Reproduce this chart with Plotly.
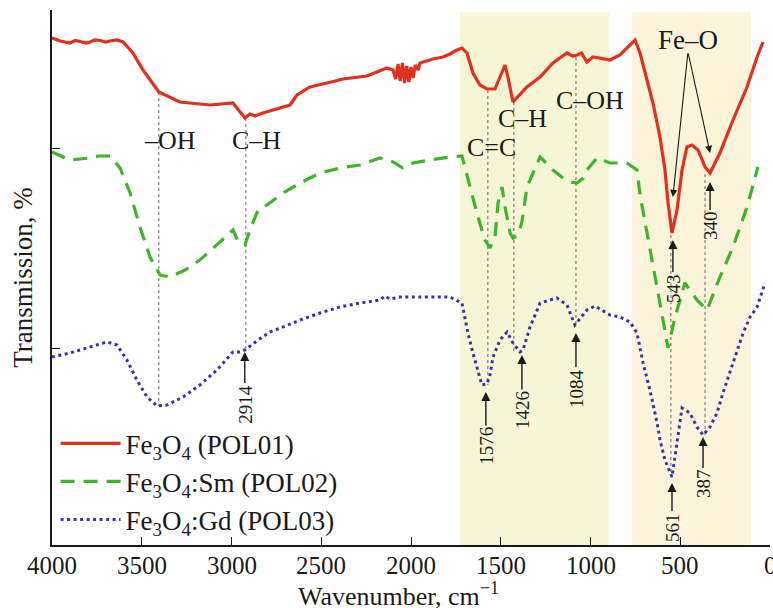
import plotly.graph_objects as go

# ---------------- data (wavenumber, cm-1 ; transmission, arb. units) ----------------
w_pol01 = [4000, 3955, 3900, 3870, 3844, 3810, 3788, 3760, 3733, 3700, 3677, 3640, 3604,
           3549, 3493, 3438, 3405, 3288, 3120, 2992, 2970, 2925, 2897, 2869, 2825, 2674,
           2635, 2563, 2468, 2379, 2245, 2134, 2100, 2085, 2072, 2060, 2048, 2036, 2024,
           2012, 2000, 1988, 1976, 1960, 1950, 1878, 1822,
           1783, 1744, 1716, 1688, 1655, 1616, 1577, 1532, 1504, 1476, 1460, 1432, 1354,
           1281, 1209, 1131, 1100, 1075, 1050, 1020, 986, 891, 836, 752, 724, 685, 652,
           613, 585, 568, 546, 518, 490, 463, 435, 401, 362, 334, 279, 206, 128, 72, 39]
t_pol01 = [101.4, 100.8, 100.4, 100.9, 100.7, 100.4, 100.6, 101.0, 100.9, 100.6, 100.8, 101.0, 100.6,
           98.4, 95.0, 92.4, 90.6, 88.6, 88.0, 88.4, 87.4, 85.4, 86.2, 85.8, 86.4, 88.0,
           90.0, 91.6, 92.4, 93.2, 93.8, 95.4, 95.0, 93.2, 96.2, 92.8, 96.4, 92.4, 95.8,
           92.6, 95.6, 93.4, 96.0, 95.0, 96.4, 97.2, 97.6,
           98.2, 99.0, 99.4, 98.4, 94.4, 92.0, 91.2, 91.2, 93.6, 96.0, 93.6, 88.6, 91.6,
           93.6, 96.4, 98.4, 97.8, 98.0, 98.4, 96.6, 97.6, 97.0, 98.0, 101.0, 98.4, 93.0, 88.4,
           81.6, 75.0, 68.4, 62.4, 67.0, 75.0, 79.6, 80.0, 79.0, 75.6, 74.4, 78.4, 85.0, 91.6, 97.6, 100.6]

w_pol02 = [4000, 3950, 3900, 3844, 3790, 3740, 3677, 3621, 3565, 3510, 3454, 3398, 3343,
           3259, 3176, 3064, 2992, 2964, 2925, 2897, 2852, 2802, 2713, 2618, 2507, 2396,
           2284, 2173, 2100, 2045, 1989, 1894, 1783, 1716, 1671, 1627, 1588, 1560, 1532,
           1515, 1493, 1476, 1448, 1432, 1404, 1382, 1354, 1298, 1281, 1209, 1153, 1110,
           1075, 1040, 1020, 964, 891, 797, 741, 724, 669, 624, 596, 568, 529, 474, 407,
           351, 279, 206, 128, 67]
t_pol02 = [78.6, 77.8, 77.0, 77.2, 77.4, 77.8, 77.8, 75.4, 70.4, 63.6, 57.6, 54.0, 53.6,
           55.0, 57.0, 60.6, 63.0, 60.8, 60.0, 63.0, 67.0, 68.0, 70.4, 72.4, 74.4, 75.4,
           76.0, 77.4, 76.6, 75.4, 76.4, 77.0, 77.6, 77.8, 71.6, 65.6, 61.0, 59.4, 61.6,
           68.4, 71.6, 67.6, 62.4, 61.4, 62.0, 64.6, 71.6, 76.4, 77.6, 75.0, 73.4, 72.6,
           72.4, 73.4, 75.0, 77.4, 76.4, 76.4, 75.0, 70.0, 59.6, 50.4, 45.0, 39.4, 45.6, 52.4, 49.0,
           47.0, 53.6, 59.6, 67.6, 75.6]

w_pol03 = [4000, 3900, 3788, 3694, 3638, 3583, 3527, 3471, 3415, 3360, 3270, 3176, 3081,
           2992, 2953, 2925, 2852, 2786, 2713, 2618, 2507, 2396, 2284, 2173, 2145, 2117,
           2061, 1894, 1783, 1716, 1683, 1655, 1627, 1605, 1577, 1560, 1543, 1504, 1465,
           1432, 1393, 1376, 1337, 1281, 1187, 1131, 1087, 1020, 975, 891, 836, 780, 741,
           707, 669, 629, 613, 585, 546, 518, 490, 446, 407, 373, 334, 295, 262, 223, 184,
           150, 111, 72, 28]
t_pol03 = [37.6, 38.4, 39.6, 40.6, 40.0, 37.0, 33.0, 29.6, 27.8, 28.0, 29.6, 32.0, 35.0,
           38.6, 38.6, 39.0, 41.0, 42.6, 43.6, 45.0, 46.4, 47.6, 48.4, 49.0, 49.8, 49.2,
           49.6, 49.6, 49.6, 48.4, 42.4, 38.4, 35.0, 32.0, 32.2, 34.0, 37.6, 41.0, 42.6,
           40.4, 38.6, 39.0, 43.6, 48.4, 49.4, 48.0, 44.0, 47.0, 47.8, 46.0, 45.6, 44.6, 42.4,
           36.4, 31.0, 24.4, 21.0, 17.0, 13.6, 21.0, 27.4, 26.4, 23.6, 22.0, 23.6, 26.4, 30.4, 34.6, 38.6,
           42.4, 45.6, 47.6, 52.4]

series_names = ["Fe<sub>3</sub>O<sub>4</sub> (POL01)",
                "Fe<sub>3</sub>O<sub>4</sub>:Sm (POL02)",
                "Fe<sub>3</sub>O<sub>4</sub>:Gd (POL03)"]

x_ticks = [4000, 3500, 3000, 2500, 2000, 1500, 1000, 500, 0]
x_tick_labels = [str(v) for v in x_ticks]
y_ticks = [39.4, 79.4]

# shaded spectral regions (wavenumber ranges)
band_ranges = [(1727, 897), (769, 106)]
band_colors = ["rgba(246,246,214,1)", "rgba(252,243,219,1)"]

# dotted guide lines: (wavenumber, top, bottom)
guide_lines = [(3405, 90.6, 27.8), (2920, 85.4, 38.6), (1572, 91.0, 32.0), (1427, 88.6, 38.6),
               (1081, 97.6, 44.0), (552, 62.0, 13.6), (362, 74.2, 22.0)]

# group labels: (text, wavenumber, value)
group_labels = [("–OH", 3344, 81.0), ("C–H", 2859, 81.0), ("C=C", 1549, 79.6),
                ("C–H", 1377, 85.4), ("C–OH", 1003, 89.0)]

# peak labels: (text, wavenumber at arrow, value at arrow tip, pixel offset of label)
peak_labels = [("2914", 2926, 38.6, 52), ("1576", 1583, 30.6, 54), ("1426", 1382, 38.0, 55),
               ("1084", 1081, 42.4, 55), ("561", 546, 12.4, 44), ("387", 373, 21.6, 47),
               ("543", 541, 61.0, 48), ("340", 334, 72.6, 44)]

feo_label = ("Fe–O", 457, 101.0)
feo_tail = (457, 98.6)
feo_tips = [(541, 69.6), (334, 78.4)]

x_title = "Wavenumber, cm<sup>−1</sup>"
y_title = "Transmission, %"

FONT = "Liberation Serif, Times New Roman, serif"
INK = "#1a1a1a"

fig = go.Figure()

fig.add_trace(go.Scatter(x=w_pol01, y=t_pol01, mode="lines", name=series_names[0],
                         legendgroup="a",
                         line=dict(color="#e2301e", width=3.2)))
fig.add_trace(go.Scatter(x=w_pol02, y=t_pol02, mode="lines", name=series_names[1],
                         legendgroup="b",
                         line=dict(color="#3fb52a", width=3.2, dash="14px,9px")))
fig.add_trace(go.Scatter(x=w_pol03, y=t_pol03, mode="lines", name=series_names[2],
                         legendgroup="c",
                         line=dict(color="#3535a8", width=3, dash="3px,3.5px")))

shapes = []
for (x0, x1), c in zip(band_ranges, band_colors):
    shapes.append(dict(type="rect", xref="x", yref="paper", x0=x0, x1=x1, y0=0, y1=0.996,
                       fillcolor=c, line=dict(width=0), layer="below"))
for wx, y0, y1 in guide_lines:
    shapes.append(dict(type="line", xref="x", yref="y", x0=wx, x1=wx, y0=y0, y1=y1,
                       line=dict(color="#666666", width=1, dash="dot"), layer="below"))

annotations = []
for txt, wx, vy in group_labels:
    annotations.append(dict(x=wx, y=vy, xref="x", yref="y", text=txt, showarrow=False,
                            font=dict(family=FONT, size=26, color=INK)))
for txt, wx, vy, off in peak_labels:
    annotations.append(dict(x=wx, y=vy, xref="x", yref="y", text=txt, showarrow=True,
                            ax=0, ay=off, textangle=-90, arrowhead=2, arrowsize=1.3,
                            arrowwidth=1.4, arrowcolor=INK, standoff=0,
                            font=dict(family=FONT, size=19, color=INK)))
annotations.append(dict(x=feo_label[1], y=feo_label[2], xref="x", yref="y", text=feo_label[0],
                        showarrow=False, font=dict(family=FONT, size=27, color=INK)))
for tx, ty in feo_tips:
    annotations.append(dict(x=tx, y=ty, xref="x", yref="y", ax=feo_tail[0], ay=feo_tail[1],
                            axref="x", ayref="y", text="", showarrow=True, arrowhead=2,
                            arrowsize=1.3, arrowwidth=1.1, arrowcolor=INK))
# x tick labels (placed through the x scale)
for v, lab in zip(x_ticks, x_tick_labels):
    annotations.append(dict(x=v, y=0, xref="x", yref="paper", text=lab, showarrow=False,
                            yanchor="middle", yshift=-20,
                            font=dict(family=FONT, size=25, color=INK)))
annotations.append(dict(x=0.483, y=0, xref="paper", yref="paper", text=x_title,
                        showarrow=False, yanchor="middle", yshift=-49,
                        font=dict(family=FONT, size=26, color=INK)))

fig.update_layout(
    width=773, height=608,
    margin=dict(l=52, r=3, t=10, b=63),
    paper_bgcolor="white", plot_bgcolor="rgba(0,0,0,0)",
    font=dict(family=FONT, color=INK),
    shapes=shapes, annotations=annotations,
    showlegend=True,
    legend=dict(x=0.005, y=0.235, xanchor="left", yanchor="top",
                bgcolor="rgba(0,0,0,0)", font=dict(family=FONT, size=27, color=INK),
                tracegroupgap=0, itemwidth=60),
    xaxis=dict(range=[4000, 0], tickvals=x_ticks, showticklabels=False,
               ticks="inside", ticklen=8, tickwidth=1.3, tickcolor=INK,
               showline=True, linecolor=INK, linewidth=1.5, showgrid=False, zeroline=False),
    yaxis=dict(range=[0, 107], tickvals=y_ticks, showticklabels=False,
               ticks="inside", ticklen=8, tickwidth=1.3, tickcolor=INK,
               showline=True, linecolor=INK, linewidth=1.5, showgrid=False, zeroline=False,
               title=dict(text=y_title, standoff=10,
                          font=dict(family=FONT, size=27, color=INK))),
)

fig.write_html("out.html", config={"displayModeBar": False},
               post_script="document.body.style.margin='0px';document.body.style.overflow='hidden';")
